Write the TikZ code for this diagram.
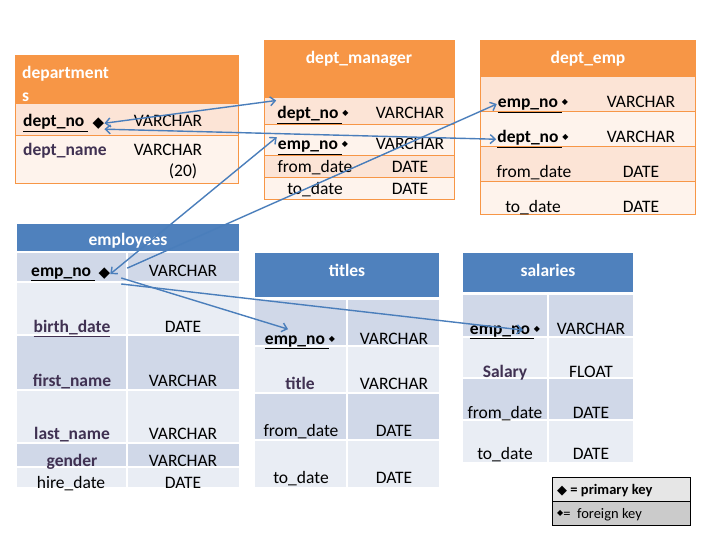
\documentclass[tikz,border=0pt]{standalone}
\usepackage{fontspec}
\setmainfont{Carlito}
\newfontfamily\symfont{DejaVu Sans}
\usepackage{tikz}
\usetikzlibrary{arrows.meta}
\usetikzlibrary{positioning}
\definecolor{orhead}{HTML}{F79646}
\definecolor{orrow}{HTML}{FCE4D6}
\definecolor{orrowb}{HTML}{FEF3EC}
\definecolor{blhead}{HTML}{4F81BD}
\definecolor{blrow}{HTML}{D0D8E8}
\definecolor{blrowb}{HTML}{E9EDF4}
\definecolor{attrpurple}{HTML}{403152}
\definecolor{linkblue}{HTML}{4A7EBB}
\definecolor{legtop}{HTML}{E6E6E6}
\definecolor{legbot}{HTML}{CBCBCB}
\newcommand{\tabfont}{\fontsize{17.5}{21}\selectfont}
\newcommand{\pk}{{\symfont\fontsize{15}{15}\selectfont ◆}}
\newcommand{\fk}{\raisebox{3pt}{\symfont\fontsize{8}{8}\selectfont ◆}}
\tikzset{
	cell/.style={font=\tabfont,inner sep=1pt},
	keyname/.style={font=\tabfont\bfseries,inner sep=1pt},
	attr/.style={font=\tabfont\bfseries,text=attrpurple,inner sep=1pt},
	head/.style={font=\tabfont\bfseries,text=white,inner sep=1pt},
	pkmark/.style={inner sep=0pt},
	legtext/.style={anchor=base west,font=\fontsize{14.5}{17}\selectfont,inner sep=0pt},
	orline/.style={draw=orhead,line width=0.8pt},
	blline/.style={draw=white,line width=1.5pt},
	link/.style={draw=linkblue,line width=1.4pt,>={Straight Barb[length=5pt,width=9pt]}},
}

\begin{document}
\begin{tikzpicture}[x=1pt,y=-1pt]
	\path[use as bounding box,fill=white] (0,0) rectangle (720,540);

	\fill[orhead] (15,55) rectangle (238,103);
	\fill[orrow] (15,103) rectangle (238,135);
	\fill[orrowb] (15,135) rectangle (238,183);
	\draw[orline] (15,55) rectangle (238,183) (15,103) -- (238,103) (15,135) -- (238,135);
	\node[head,anchor=north west,align=left] (dep) at (21,65) {department\\[2pt]s};
	\node[keyname,anchor=base west] (dep-dno) at (22,127) {\underline{dept\_no\ }};
	\node[pkmark,right=3pt of dep-dno] (dep-pk) {\pk};
	\node[cell,anchor=base] (dep-t1) at (168,127) {VARCHAR};
	\node[attr,anchor=base west] (dep-dname) at (22,156) {dept\_name};
	\node[cell,anchor=base] (dep-t2) at (168,156) {VARCHAR};
	\node[cell,anchor=base] (dep-t3) at (183,177) {(20)};

	\fill[orhead] (264,40) rectangle (454,97);
	\foreach \ya/\yb/\col in {97/124/orrow,124/155/orrowb,155/177/orrow,177/199/orrowb}
		\fill[\col] (264,\ya) rectangle (454,\yb);
	\draw[orline] (264,40) rectangle (454,199);
	\foreach \y in {97,124,155,177}
		\draw[orline] (264,\y) -- (454,\y);
	\node[head,anchor=base] (dm) at (359,64) {dept\_manager};
	\node[keyname,anchor=base] (dm-dno) at (313,119) {\underline{dept\_no\ }\fk};
	\node[keyname,anchor=base] (dm-eno) at (313,150) {\underline{emp\_no\ }\fk};
	\node[cell,anchor=base] (dm-from) at (315,173) {from\_date};
	\node[cell,anchor=base] (dm-to) at (315,195) {to\_date};
	\foreach \y/\tp [count=\i] in {119/VARCHAR,150/VARCHAR,173/DATE,195/DATE}
		\node[cell,anchor=base] (dm-t\i) at (410,\y) {\tp};

	\fill[orhead] (480,40) rectangle (695,76);
	\foreach \ya/\yb/\col in {76/111/orrow,111/146/orrowb,146/181/orrow,181/214/orrowb}
		\fill[\col] (480,\ya) rectangle (695,\yb);
	\draw[orline] (480,40) rectangle (695,214);
	\foreach \y in {76,111,146,181}
		\draw[orline] (480,\y) -- (695,\y);
	\node[head,anchor=base] (de) at (588,64) {dept\_emp};
	\node[keyname,anchor=base] (de-eno) at (533,108) {\underline{emp\_no\ }\fk};
	\node[keyname,anchor=base] (de-dno) at (533,143) {\underline{dept\_no\ }\fk};
	\node[cell,anchor=base] (de-from) at (534,178) {from\_date};
	\node[cell,anchor=base] (de-to) at (533,213) {to\_date};
	\foreach \y/\tp [count=\i] in {108/VARCHAR,143/VARCHAR,178/DATE,213/DATE}
		\node[cell,anchor=base] (de-t\i) at (641,\y) {\tp};

	\fill[blhead] (17,224) rectangle (239,251);
	\foreach \ya/\yb/\col in {253/282/blrow,282/335/blrowb,335/390/blrow,390/443/blrowb,443/467/blrow,467/487/blrowb}
		\fill[\col] (17,\ya) rectangle (239,\yb);
	\foreach \y in {282,335,390,443,467}
		\draw[blline] (17,\y) -- (239,\y);
	\draw[blline] (127,253) -- (127,487);
	\node[head,anchor=base] (emp) at (128,245) {employees};
	\node[keyname,anchor=base west] (emp-eno) at (30,276) {\underline{emp\_no\ }};
	\node[pkmark,right=2pt of emp-eno] (emp-pk) {\pk};
	\node[attr,anchor=base] (emp-birth) at (72,332) {\underline{birth\_date}};
	\node[attr,anchor=base] (emp-first) at (72,386) {first\_name};
	\node[attr,anchor=base] (emp-last) at (72,439) {last\_name};
	\node[attr,anchor=base] (emp-gender) at (72,466) {gender};
	\node[cell,anchor=base] (emp-hire) at (71,488) {hire\_date};
	\foreach \y/\tp [count=\i] in {276/VARCHAR,332/DATE,386/VARCHAR,439/VARCHAR,466/VARCHAR,488/DATE}
		\node[cell,anchor=base] (emp-t\i) at (183,\y) {\tp};

	\fill[blhead] (255,253) rectangle (439,297);
	\foreach \ya/\yb/\col in {300/346/blrow,346/393/blrowb,393/440/blrow,440/487/blrowb}
		\fill[\col] (255,\ya) rectangle (439,\yb);
	\foreach \y in {346,393,440}
		\draw[blline] (255,\y) -- (439,\y);
	\draw[blline] (347,300) -- (347,487);
	\node[head,anchor=base] (ti) at (347,276) {titles};
	\node[keyname,anchor=base] (ti-eno) at (300,344) {\underline{emp\_no\ }\fk};
	\node[attr,anchor=base] (ti-title) at (300,389) {title};
	\node[cell,anchor=base] (ti-from) at (301,436) {from\_date};
	\node[cell,anchor=base] (ti-to) at (301,483) {to\_date};
	\foreach \y/\tp [count=\i] in {344/VARCHAR,389/VARCHAR,436/DATE,483/DATE}
		\node[cell,anchor=base] (ti-t\i) at (394,\y) {\tp};

	\fill[blhead] (463,253) rectangle (633,292);
	\foreach \ya/\yb/\col in {295/337/blrow,337/378/blrowb,378/420/blrow,420/462/blrowb}
		\fill[\col] (463,\ya) rectangle (633,\yb);
	\foreach \y in {337,378,420}
		\draw[blline] (463,\y) -- (633,\y);
	\draw[blline] (548,295) -- (548,462);
	\node[head,anchor=base] (sa) at (548,276) {salaries};
	\node[keyname,anchor=base] (sa-eno) at (505,334) {\underline{emp\_no\ }\fk};
	\node[attr,anchor=base] (sa-sal) at (505,377) {Salary};
	\node[cell,anchor=base] (sa-from) at (505,418) {from\_date};
	\node[cell,anchor=base] (sa-to) at (505,459) {to\_date};
	\foreach \y/\tp [count=\i] in {334/VARCHAR,377/FLOAT,418/DATE,459/DATE}
		\node[cell,anchor=base] (sa-t\i) at (591,\y) {\tp};

	\draw[fill=legtop,line width=0.8pt] (552,477) rectangle (690,501);
	\draw[fill=legbot,line width=0.8pt] (552,501) rectangle (690,525);
	\node[legtext] (leg-pk) at (557,494) {{\symfont\fontsize{13}{13}\selectfont ◆} \textbf{= primary key}};
	\node[legtext] (leg-fk) at (557,518) {\fk= \ foreign key};

	\draw[link,<->] (dep-pk.east) -- ([yshift=5pt]dm-dno.north west);
	\draw[link,<->] (dep-pk.south east) -- (de-dno.west);
	\draw[link,<->] (emp-pk.east) -- ([yshift=3pt]dm-eno.north west);
	\draw[link,->] ([xshift=17pt]emp-pk.north east) -- ([yshift=2pt]de-eno.west);
	\draw[link,->] ([xshift=11pt,yshift=2pt]emp-pk.south east) -- ([xshift=-12pt,yshift=5pt]ti-eno.north);
	\draw[link,->] ([xshift=11pt,yshift=-4pt]emp-pk.south east) -- ([xshift=18pt,yshift=2pt]sa-eno.center);
\end{tikzpicture}
\end{document}
